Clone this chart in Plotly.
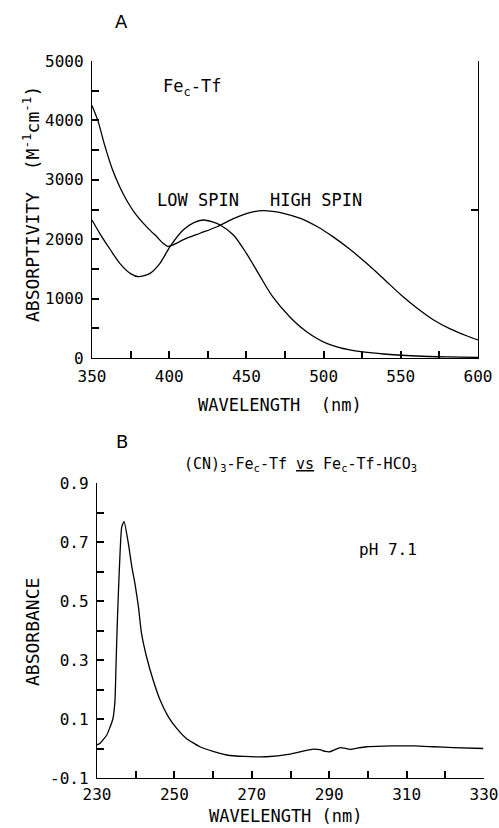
import plotly.graph_objects as go

# Panel A: Fe_c-Tf absorptivity spectra (M^-1 cm^-1)
hs_wl = [350, 354, 358, 363, 368, 373, 378, 383, 388, 392, 396, 399, 402, 410, 420, 431, 442, 450, 455, 461,
         467, 474, 485, 496, 506, 517, 528, 539, 550, 560, 571, 582, 593, 600]
hs_abs = [4250, 3980, 3600, 3190, 2880, 2630, 2430, 2275, 2140, 2040, 1930, 1880, 1900, 2000, 2100, 2210,
          2350, 2430, 2465, 2480, 2468, 2436, 2351, 2210, 2043, 1830, 1590, 1330, 1065, 850, 645, 490, 370, 303]

ls_wl = [350, 355, 362, 368, 375, 380, 387.6, 394, 400.5, 409, 416, 422, 428, 433, 441.6, 450, 459, 467,
         478, 489, 502, 517, 539, 560, 580, 600]
ls_abs = [2323, 2099, 1818, 1594, 1420, 1369, 1425, 1594, 1874, 2155, 2280, 2323, 2290, 2239, 2071, 1762,
          1369, 1032, 695, 443, 247, 135, 67, 34, 18, 10]

# Panel B: difference spectrum (absorbance)
b_wl = [230, 230.8, 232.5, 233.3, 234.1, 234.65, 234.9, 235.3, 235.8, 236.4, 237.0, 238.1, 239.0, 239.8,
        240.7, 241.5, 242.8, 244.5, 246.3, 248.4, 250.6, 253, 256.6, 260, 263.5, 268, 273.8, 279.9, 283,
        285.9, 287.6, 289, 290.2, 291.5, 292.8, 294, 295.4, 297.5, 299.7, 304, 308.3, 312, 317, 322, 329.8]
b_abs = [0.012, 0.018, 0.045, 0.070, 0.100, 0.164, 0.277, 0.447, 0.616, 0.752, 0.769, 0.695, 0.616, 0.560,
         0.481, 0.390, 0.311, 0.232, 0.164, 0.108, 0.068, 0.035, 0.006, -0.010, -0.022, -0.027, -0.028,
         -0.019, -0.010, -0.002, -0.004, -0.010, -0.011, -0.004, 0.003, 0.001, -0.003, 0.002, 0.006, 0.008,
         0.009, 0.009, 0.006, 0.003, 0.0]

# Tick positions / labels
a_xlabels = [350, 400, 450, 500, 550, 600]
a_xticks = [350, 375, 400, 425, 450, 475, 500, 525, 550, 575, 600]
a_ylabels = [0, 1000, 2000, 3000, 4000, 5000]
a_yticks = [0, 500, 1000, 1500, 2000, 2500, 3000, 3500, 4000, 4500, 5000]
b_xlabels = [230, 250, 270, 290, 310, 330]
b_xticks = [230, 240, 250, 260, 270, 280, 290, 300, 310, 320, 330]
b_ylabels = [-0.1, 0.1, 0.3, 0.5, 0.7, 0.9]
b_yticks = [-0.1, 0.0, 0.1, 0.2, 0.3, 0.4, 0.5, 0.6, 0.7, 0.8, 0.9]

W, H = 499, 828
def px(x):
    return x / W
def py(y):
    return 1 - y / H

FONT = "DejaVu Sans Mono"
line = dict(color="black", width=1.3)

fig = go.Figure()
fig.add_trace(go.Scatter(x=hs_wl, y=hs_abs, mode="lines", line=dict(line, shape="spline", smoothing=0.8),
                         xaxis="x", yaxis="y", showlegend=False, hoverinfo="skip"))
fig.add_trace(go.Scatter(x=ls_wl, y=ls_abs, mode="lines", line=dict(line, shape="spline", smoothing=0.8),
                         xaxis="x", yaxis="y", showlegend=False, hoverinfo="skip"))
fig.add_trace(go.Scatter(x=b_wl, y=b_abs, mode="lines", line=dict(line, shape="spline", smoothing=0.5),
                         xaxis="x2", yaxis="y2", showlegend=False, hoverinfo="skip"))
# empty traces so that the tick-mark overlay axes are drawn
for xa, ya in [("x3", "y4"), ("x", "y3"), ("x4", "y5")]:
    fig.add_trace(go.Scatter(x=[None], y=[None], mode="lines", xaxis=xa, yaxis=ya,
                             showlegend=False, hoverinfo="skip"))

tickfont = dict(family=FONT, size=16, color="black")
lab = dict(showline=True, linecolor="black", linewidth=1.4, ticks="", showgrid=False, zeroline=False,
           tickfont=tickfont, fixedrange=True, automargin=False, tickmode="array")
mk = dict(showline=False, ticks="inside", ticklen=7, tickwidth=2, tickcolor="black",
          showticklabels=False, showgrid=False, zeroline=False, fixedrange=True, automargin=False,
          tickmode="array")

dxa = [px(92), px(478)]
dya = [py(358), py(61)]
dxb = [px(97), px(484)]
dyb = [py(778), py(483)]

fig.update_layout(
    template="none",
    width=W, height=H, margin=dict(l=0, r=0, t=0, b=0, pad=0),
    paper_bgcolor="white", plot_bgcolor="white",
    xaxis=dict(lab, domain=dxa, range=[350, 600], anchor="y", tickvals=a_xlabels, ticklabelstandoff=4),
    yaxis=dict(lab, domain=dya, range=[0, 5000], anchor="x", tickvals=a_ylabels, ticklabelstandoff=4),
    xaxis3=dict(mk, overlaying="x", anchor="y", side="bottom", range=[350, 600], tickvals=a_xticks),
    yaxis4=dict(mk, overlaying="y", anchor="x", side="left", range=[0, 5000], tickvals=a_yticks),
    yaxis3=dict(mk, overlaying="y", anchor="x", side="right", range=[0, 5000], tickvals=[2500, 5000],
                showline=True, linecolor="black", linewidth=1.1),
    xaxis2=dict(lab, domain=dxb, range=[230, 330], anchor="y2", tickvals=b_xlabels, ticklabelstandoff=2),
    yaxis2=dict(lab, domain=dyb, range=[-0.1, 0.9], anchor="x2", tickvals=b_ylabels,
                ticktext=["-0.1", "0.1", "0.3", "0.5", "0.7", "0.9"], ticklabelstandoff=4),
    xaxis4=dict(mk, overlaying="x2", anchor="y2", side="bottom", range=[230, 330], tickvals=b_xticks),
    yaxis5=dict(mk, overlaying="y2", anchor="x2", side="left", range=[-0.1, 0.9], tickvals=b_yticks),
)

def ann(text, x, y, size=15, angle=0, family=FONT):
    fig.add_annotation(text=text, x=px(x), y=py(y), xref="paper", yref="paper", showarrow=False,
                       textangle=angle, font=dict(family=family, size=size, color="black"),
                       xanchor="center", yanchor="middle")

ann("A", 121, 21, size=18, family="DejaVu Sans")
ann("Fe<sub>c</sub>-Tf", 192, 87, size=17)
ann("LOW SPIN", 198, 200, size=17)
ann("HIGH SPIN", 316, 200, size=17)
ann("WAVELENGTH  (nm)", 280, 405, size=17)
ann("ABSORPTIVITY  (M<sup>-1</sup>cm<sup>-1</sup>)", 31, 204, size=18, angle=-90)

ann("B", 122, 441, size=18, family="DejaVu Sans")
ann("(CN)<sub>3</sub>-Fe<sub>c</sub>-Tf <u>vs</u> Fe<sub>c</sub>-Tf-HCO<sub>3</sub>", 300, 464, size=15)
ann("pH 7.1", 388, 549, size=16)
ann("ABSORBANCE", 32, 632, size=18, angle=-90)
ann("WAVELENGTH (nm)", 286, 816, size=17)

fig.write_html("out.html", config={"displayModeBar": False},
               post_script="document.body.style.margin='0';document.body.style.padding='0';"
                           "document.documentElement.style.overflow='hidden';")
